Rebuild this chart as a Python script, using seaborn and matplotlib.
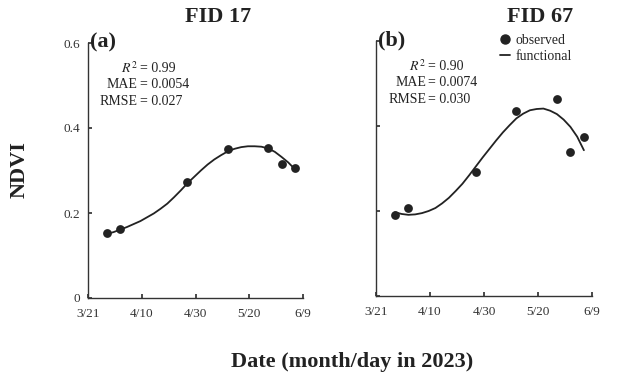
import numpy as np
import pandas as pd
import matplotlib
matplotlib.use("Agg")
import matplotlib.pyplot as plt
import seaborn as sns
from matplotlib.lines import Line2D

# ---- data -------------------------------------------------------------
season_start = "2023/3/21"
tick_dates = ["3/21", "4/10", "4/30", "5/20", "6/9"]

obs_dates = ["3/28", "4/2", "4/27", "5/12", "5/27", "6/1", "6/6"]
ndvi_fid17 = [0.152, 0.162, 0.272, 0.351, 0.354, 0.315, 0.305]
ndvi_fid67 = [0.190, 0.206, 0.291, 0.436, 0.463, 0.338, 0.373]

# functional (smoothed) curves, days after 3/21
curve_days = [7, 9.5, 12, 14.5, 17, 19.5, 22, 24.5, 27, 29.5, 32, 34.5,
              37, 39.5, 42, 44.5, 47, 49.5, 52, 54.5, 57, 59.5, 62, 64.5,
              67, 69.5, 72, 74.5, 77]
curve_fid17 = [0.151, 0.155, 0.161, 0.167, 0.174, 0.181, 0.190, 0.199,
               0.210, 0.222, 0.237, 0.253, 0.270, 0.285, 0.300, 0.314,
               0.326, 0.336, 0.345, 0.351, 0.355, 0.357, 0.357, 0.356,
               0.352, 0.344, 0.332, 0.319, 0.303]
curve_fid67 = [0.197, 0.193, 0.191, 0.192, 0.195, 0.200, 0.207, 0.218,
               0.231, 0.247, 0.264, 0.284, 0.305, 0.326, 0.346, 0.366,
               0.385, 0.402, 0.418, 0.429, 0.437, 0.440, 0.441, 0.436,
               0.428, 0.415, 0.398, 0.375, 0.343]

stats_fid17 = {"r2": "0.99", "mae": "0.0054", "rmse": "0.027"}
stats_fid67 = {"r2": "0.90", "mae": "0.0074", "rmse": "0.030"}


def days_since_start(md_list):
    t0 = pd.Timestamp(season_start)
    return [(pd.Timestamp("2023/" + d) - t0).days for d in md_list]


obs_days = days_since_start(obs_dates)
tick_days = days_since_start(tick_dates)

# ---- style ------------------------------------------------------------
sns.set_theme(style="ticks")
plt.rcParams["font.family"] = ["Liberation Serif", "DejaVu Serif"]
plt.rcParams["mathtext.fontset"] = "stix"
ink = "#222222"
plt.rcParams.update({
    "axes.edgecolor": "#333333",
    "axes.linewidth": 1.0,
    "xtick.color": "#333333",
    "ytick.color": "#333333",
    "xtick.labelcolor": "#333333",
    "ytick.labelcolor": "#333333",
    "xtick.direction": "in",
    "ytick.direction": "in",
    "xtick.major.size": 3,
    "ytick.major.size": 3,
})

fig = plt.figure(figsize=(6.25, 3.78), dpi=100)
W, H = 625, 378


def add_axes_px(x0, x1, ytop, ybot):
    return fig.add_axes([x0 / W, 1 - ybot / H, (x1 - x0) / W, (ybot - ytop) / H])


ax_a = add_axes_px(88, 303, 43, 298)
ax_b = add_axes_px(376, 592, 41, 296)

panels = [
    (ax_a, ndvi_fid17, curve_fid17, stats_fid17, "(a)", True),
    (ax_b, ndvi_fid67, curve_fid67, stats_fid67, "(b)", False),
]

for ax, obs, curve, stats, tag, show_y in panels:
    sns.lineplot(x=curve_days, y=curve, ax=ax, color=ink, linewidth=1.3)
    sns.scatterplot(x=obs_days, y=obs, ax=ax, color=ink, s=40,
                    edgecolor=ink, linewidth=0, zorder=3)
    ax.set_xlim(tick_days[0], tick_days[-1])
    ax.set_ylim(0, 0.6)
    ax.set_xticks(tick_days)
    ax.set_xticklabels(tick_dates, fontsize=9.5)
    ax.set_yticks([0, 0.2, 0.4, 0.6])
    if show_y:
        ax.set_yticklabels(["0", "0.2", "0.4", "0.6"], fontsize=9.5)
    else:
        ax.set_yticklabels([])
    ax.tick_params(axis="x", pad=7)
    ax.tick_params(axis="y", pad=6)
    ax.set_xlabel("")
    ax.set_ylabel("")
    sns.despine(ax=ax)

    ax.text(0.01, 1.04, tag, transform=ax.transAxes, fontsize=16,
            fontweight="bold", ha="left", va="top", color=ink)
    rows = [("$R^2$", stats["r2"]), ("MAE", stats["mae"]), ("RMSE", stats["rmse"])]
    for i, (name, val) in enumerate(rows):
        y = 0.900 - i * 0.064
        ax.text(0.232, y, name, transform=ax.transAxes, fontsize=10,
                ha="right", va="center", color=ink)
        ax.text(0.243, y, "= " + val, transform=ax.transAxes, fontsize=10,
                ha="left", va="center", color=ink)

# panel titles
fig.text(218 / W, 1 - 17 / H, "FID 17", fontsize=16, fontweight="bold",
         ha="center", va="center", color=ink)
fig.text(540 / W, 1 - 17 / H, "FID 67", fontsize=16, fontweight="bold",
         ha="center", va="center", color=ink)

# shared axis labels
fig.text(20 / W, 1 - 170 / H, "NDVI", fontsize=16, fontweight="bold",
         rotation=90, ha="center", va="center", color=ink)
fig.text(352 / W, 1 - 362 / H, "Date (month/day in 2023)", fontsize=16,
         fontweight="bold", ha="center", va="center", color=ink)

# legend
handles = [
    Line2D([], [], marker="o", linestyle="none", color=ink, markersize=6.5),
    Line2D([], [], color=ink, linewidth=1.3),
]
ax_b.legend(handles, ["observed", "functional"], loc="upper left",
            bbox_to_anchor=(500 / W, 1 - 34 / H), bbox_transform=fig.transFigure,
            frameon=False, fontsize=10, handlelength=0.7, handletextpad=0.4,
            labelspacing=0.2, borderpad=0, borderaxespad=0)

fig.savefig("out.png", dpi=100)
